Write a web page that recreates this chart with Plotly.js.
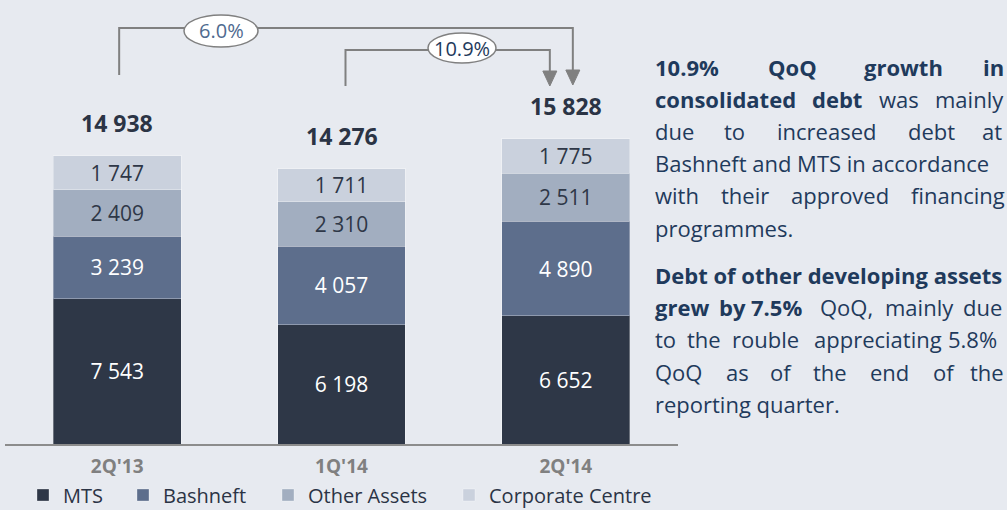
<!DOCTYPE html>
<html><head><meta charset="utf-8">
<script src="https://cdn.plot.ly/plotly-3.0.1.min.js"></script>
<style>html,body{margin:0;padding:0;background:#e7eaf0;overflow:hidden}#chart{width:1007px;height:510px}</style>
</head><body><div id="chart"></div>
<script>
// ---- data ----
const categories = ["2Q'13", "1Q'14", "2Q'14"];
const mts = [7543, 6198, 6652];
const bashneft = [3239, 4057, 4890];
const otherAssets = [2409, 2310, 2511];
const corporateCentre = [1747, 1711, 1775];
const seriesNames = ['MTS', 'Bashneft', 'Other Assets', 'Corporate Centre'];
const growthLabels = ['6.0%', '10.9%'];

// ---- layout constants ----
const W = 1007, H = 510;
const ML = 5, MR = 329, MT = 0, MB = 66;
const PW = W - ML - MR, PH = H - MT - MB;
const FONT = '"Open Sans", Lato, sans-serif';
const colors = ['#2e3747', '#5d6e8c', '#a2aec0', '#cad1dd'];
const labelColors = ['#ffffff', '#ffffff', '#2e3747', '#2e3747'];
const seriesVals = [mts, bashneft, otherAssets, corporateCentre];
const totals = categories.map((c, i) => seriesVals.reduce((s, a) => s + a[i], 0));
const yTop = 23029;

function fmt(n) { return String(n).replace(/\B(?=(\d{3})+(?!\d))/g, ' '); }
const px = x => (x - ML) / PW;          // pixel -> paper x
const py = y => (PH + MT - y) / PH;     // pixel -> paper y
const step = PW / categories.length;
const catPx = i => ML + (i + 0.5) * step;

const legendIds = ['legend', 'legend2', 'legend3', 'legend4'];
const legendStart = [23, 123, 268, 449];

const traces = seriesVals.map((vals, k) => ({
  type: 'bar', name: seriesNames[k], x: categories, y: vals, legend: legendIds[k],
  marker: { color: colors[k], line: { width: 1, color: 'rgba(255,255,255,0.3)' } },
  texttemplate: '%{y:,}', textposition: 'inside', insidetextanchor: 'middle',
  textangle: 0, constraintext: 'none',
  textfont: { family: FONT, size: 21, color: labelColors[k] },
  hoverinfo: 'skip'
}));

const annotations = [];
// totals
categories.forEach((c, i) => {
  annotations.push({ x: c, y: totals[i], xref: 'x', yref: 'y', text: '<b>' + fmt(totals[i]) + '</b>',
    showarrow: false, yanchor: 'middle', yshift: 33, font: { family: FONT, size: 23, color: '#2b3445' } });
});

// growth arrows
const shapes = [];
const gray = '#808080';
function bracket(fromIdx, fromDx, toIdx, toDx, yStart, yBar, yTip) {
  const x0 = catPx(fromIdx) + fromDx, x1 = catPx(toIdx) + toDx;
  shapes.push({ type: 'path', xref: 'paper', yref: 'paper', layer: 'above',
    path: `M${px(x0)},${py(yStart)} L${px(x0)},${py(yBar)} L${px(x1)},${py(yBar)} L${px(x1)},${py(yTip - 14)}`,
    line: { color: gray, width: 2 } });
  shapes.push({ type: 'path', xref: 'paper', yref: 'paper', layer: 'above',
    path: `M${px(x1 - 7)},${py(yTip - 15)} L${px(x1 + 7)},${py(yTip - 15)} L${px(x1)},${py(yTip)} Z`,
    fillcolor: gray, line: { color: gray, width: 1 } });
}
bracket(0, 2, 2, 7, 75, 28, 85);
bracket(1, 4, 2, -16, 86, 50, 86);
function bubble(cx, cy, w, h, text, color) {
  shapes.push({ type: 'circle', xref: 'paper', yref: 'paper', layer: 'above',
    x0: px(cx - w / 2), x1: px(cx + w / 2), y0: py(cy + h / 2), y1: py(cy - h / 2),
    fillcolor: '#ffffff', line: { color: gray, width: 1.5 } });
  annotations.push({ xref: 'paper', yref: 'paper', x: px(cx), y: py(cy), text: text, showarrow: false,
    xanchor: 'center', yanchor: 'middle', font: { family: FONT, size: 20, color: color } });
}
bubble(221, 31, 74, 32, growthLabels[0], '#4f6a8f');
bubble(462, 48, 68, 30, growthLabels[1], '#1f3a5c');

// commentary text (justified lines placed word by word)
const TXT = '#1f3a5c';
const lines = [
  [67, [['10.9%', 654, 1], ['QoQ', 767, 1], ['growth', 863, 1], ['in', 982, 1]]],
  [99, [['consolidated', 654, 1], ['debt', 811, 1], ['was', 878, 0], ['mainly', 934, 0]]],
  [131, [['due', 654, 0], ['to', 723, 0], ['increased', 776, 0], ['debt', 907, 0], ['at', 981, 0]]],
  [163, [['Bashneft and MTS in accordance', 654, 0]]],
  [195, [['with', 654, 0], ['their', 720, 0], ['approved', 790, 0], ['financing', 910, 0]]],
  [228, [['programmes.', 654, 0]]],
  [275, [['Debt of other developing assets', 654, 1]]],
  [307, [['grew', 654, 1], ['by', 718, 1], ['7.5%', 750, 1], ['QoQ,', 819, 0], ['mainly', 884, 0], ['due', 962, 0]]],
  [339, [['to', 654, 0], ['the', 686, 0], ['rouble', 731, 0], ['appreciating', 813, 0], ['5.8%', 947, 0]]],
  [372, [['QoQ', 654, 0], ['as', 725, 0], ['of', 769, 0], ['the', 812, 0], ['end', 869, 0], ['of', 932, 0], ['the', 969, 0]]],
  [404, [['reporting quarter.', 654, 0]]]
];
lines.forEach(([y, words]) => words.forEach(([w, x, b]) => {
  annotations.push({ xref: 'paper', yref: 'paper', x: px(x), y: py(y), text: b ? '<b>' + w + '</b>' : w,
    showarrow: false, xanchor: 'left', yanchor: 'middle', borderpad: 0,
    font: { family: FONT, size: 22, color: TXT } });
}));

const layout = {
  width: W, height: H,
  margin: { l: ML, r: MR, t: MT, b: MB, pad: 0, autoexpand: false },
  paper_bgcolor: '#e7eaf0', plot_bgcolor: '#e7eaf0',
  barmode: 'stack', bargap: 0.43,
  separators: '. ',
  showlegend: true,
  xaxis: { type: 'category', showgrid: false, zeroline: false, showline: true, linecolor: '#8c8c8c', linewidth: 2,
    ticks: '', ticklabelstandoff: 4, automargin: false,
    tickfont: { family: FONT, size: 19, color: '#808080', weight: 'bold' } },
  yaxis: { range: [0, yTop], visible: false, showgrid: false, zeroline: false, fixedrange: true, automargin: false },
  shapes: shapes, annotations: annotations,
  hovermode: false
};
legendIds.forEach((id, k) => {
  layout[id] = { orientation: 'h', xref: 'container', yref: 'container',
    x: legendStart[k] / W, xanchor: 'left', y: (H - 495) / H, yanchor: 'middle',
    font: { family: FONT, size: 20, color: '#2b3445' }, bgcolor: 'rgba(0,0,0,0)',
    itemclick: false, itemdoubleclick: false };
});
Plotly.newPlot('chart', traces, layout, { staticPlot: true, displayModeBar: false });
</script></body></html>
